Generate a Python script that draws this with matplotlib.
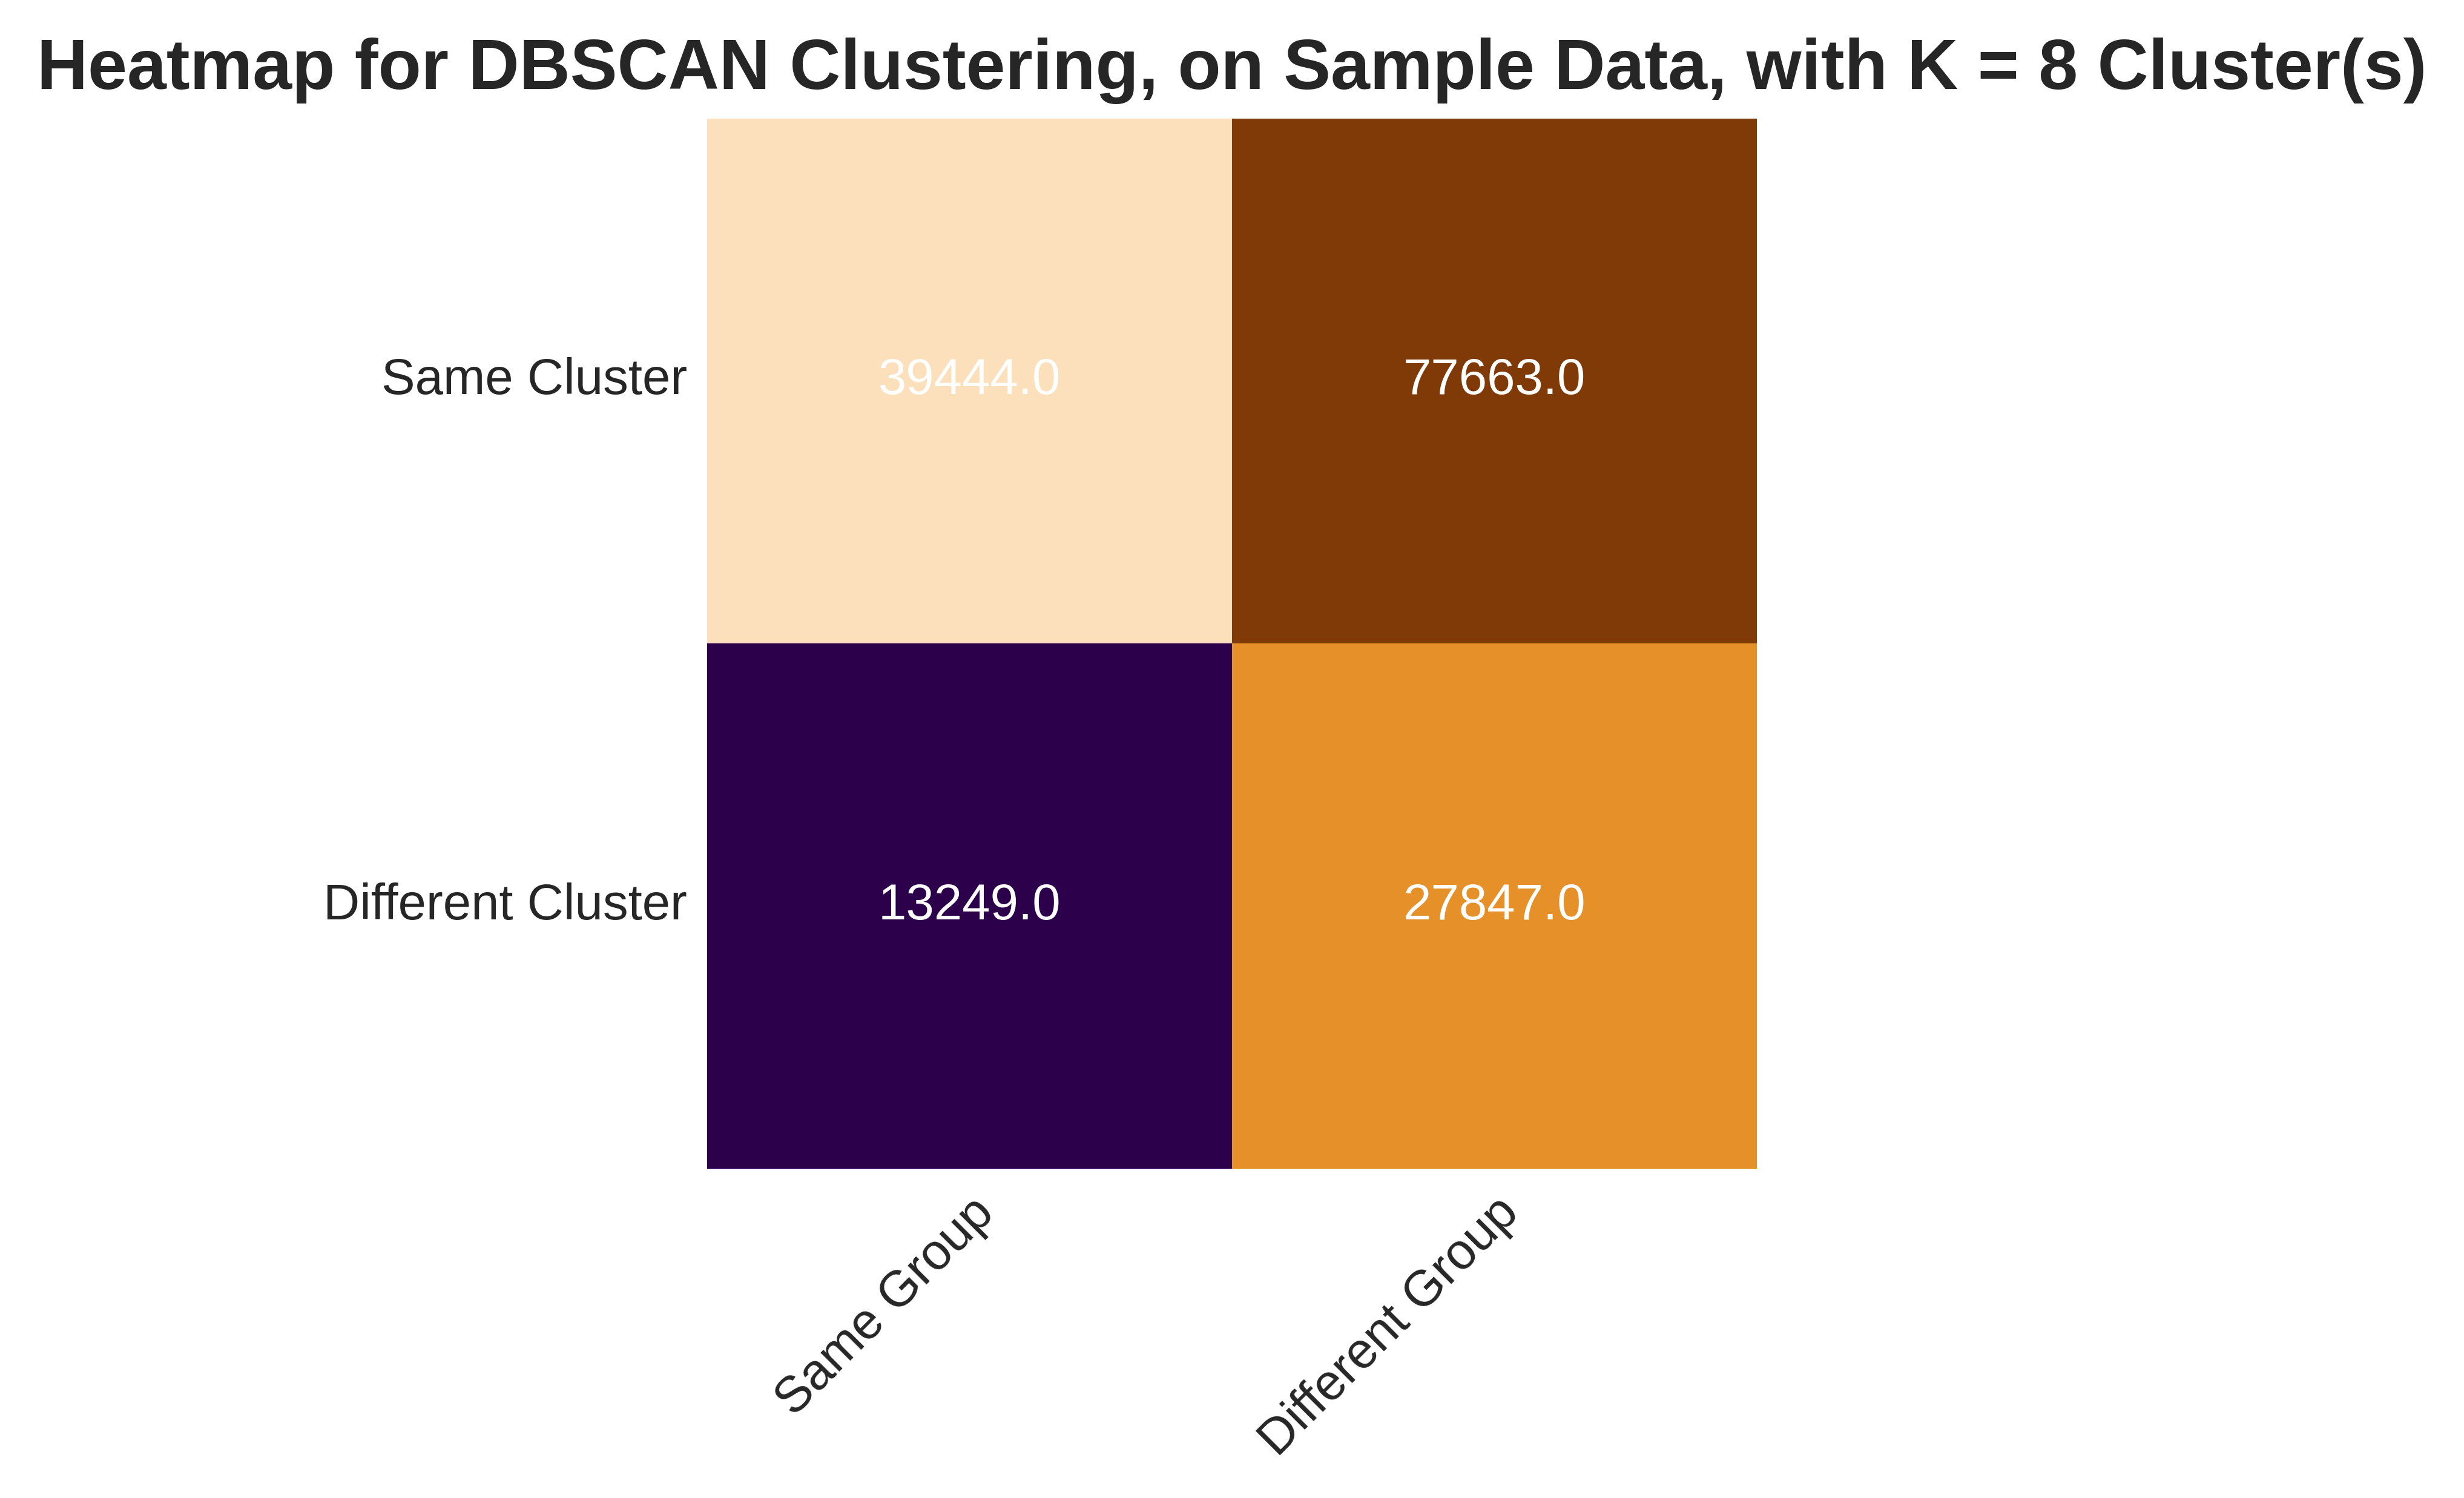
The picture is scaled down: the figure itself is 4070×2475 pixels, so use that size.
import matplotlib

matplotlib.use("Agg")

import matplotlib.pyplot as plt
import numpy as np
import seaborn as sns
from matplotlib.colors import ListedColormap

# confusion-style counts: rows = cluster relation, cols = group relation
row_labels = ["Same Cluster", "Different Cluster"]
col_labels = ["Same Group", "Different Group"]
counts = [[39444.0, 77663.0],
          [13249.0, 27847.0]]
# colour slot of every cell (as it appears in the picture)
cell_slots = [[1, 0],
              [3, 2]]
slot_colors = ["#7f3a08", "#fce0bb", "#e69029", "#2d004b"]

title = "Heatmap for DBSCAN Clustering, on Sample Data, with K = 8 Cluster(s)"

sns.set_style("white")
plt.rcParams["font.family"] = ["Liberation Sans", "DejaVu Sans"]

fig = plt.figure(figsize=(4070 / 300, 2475 / 300), dpi=300)
ax = fig.add_axes([0.287, 0.2198, 0.426, 0.7012])

vals = np.array(counts)
sns.heatmap(np.array(cell_slots), ax=ax, cmap=ListedColormap(slot_colors),
            vmin=-0.5, vmax=len(slot_colors) - 0.5, cbar=False,
            annot=vals, fmt=".1f", annot_kws={"fontsize": 20, "color": "white"},
            xticklabels=col_labels, yticklabels=row_labels, square=False)
ax.set_xticklabels(col_labels, rotation=45, ha="right", rotation_mode="anchor",
                   fontsize=20, color="#262626")
ax.set_yticklabels(row_labels, rotation=0, fontsize=20, color="#262626")
ax.tick_params(axis="both", length=0, pad=8)
fig.suptitle(title, fontsize=28, fontweight="bold", color="#262626", y=0.975)

fig.savefig("out.png", dpi=300)
